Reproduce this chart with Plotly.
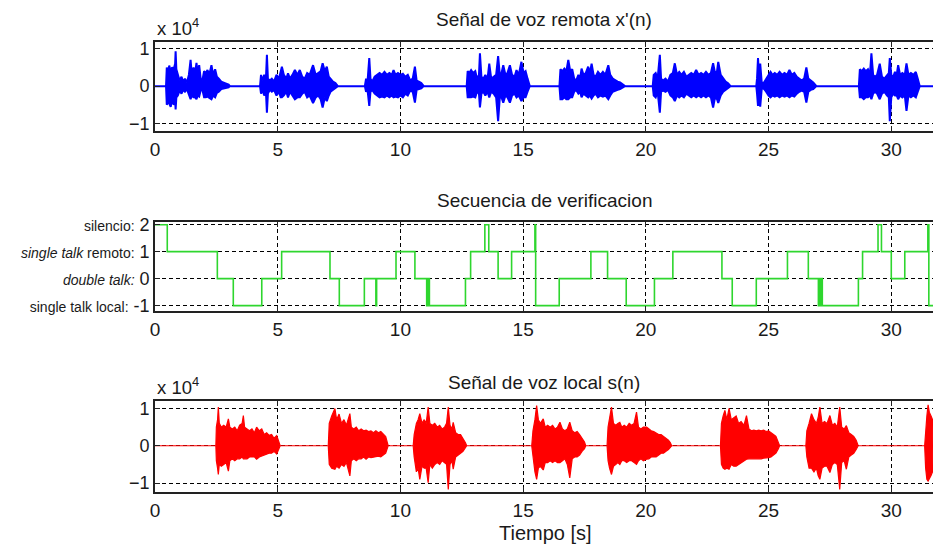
import plotly.graph_objects as go

T_END = 31.7

# far-end (remote) speech envelope, in units of 1e4: (time s, upper, lower)
remote_env = [
    (0.45, 0, 0), (0.48, 0.5, -0.5), (0.53, 0.35, -0.4), (0.58, 0.55, -0.45), (0.64, 0.4, -0.55),
    (0.70, 0.5, -0.35), (0.76, 0.45, -0.5), (0.82, 0.6, -0.4), (0.84, 0.93, -0.62), (0.87, 0.45, -0.3),
    (0.93, 0.3, -0.25), (1.00, 0.15, -0.12), (1.08, 0.25, -0.2), (1.15, 0.12, -0.1), (1.22, 0.2, -0.15),
    (1.30, 0.1, -0.08), (1.38, 0.3, -0.2), (1.45, 0.7, -0.35), (1.50, 0.3, -0.25), (1.57, 0.5, -0.3),
    (1.63, 0.35, -0.3), (1.69, 0.62, -0.35), (1.74, 0.35, -0.25), (1.80, 0.56, -0.28), (1.86, 0.2, -0.12),
    (1.93, 0.15, -0.1), (2.00, 0.4, -0.3), (2.07, 0.35, -0.3), (2.14, 0.43, -0.28), (2.21, 0.3, -0.32),
    (2.30, 0.56, -0.35), (2.37, 0.3, -0.25), (2.45, 0.45, -0.3), (2.52, 0.25, -0.18), (2.60, 0.2, -0.15),
    (2.70, 0.12, -0.08), (2.85, 0.08, -0.05), (3.00, 0.04, -0.03), (3.05, 0, 0),
    (4.28, 0, 0), (4.32, 0.3, -0.2), (4.38, 0.15, -0.1), (4.45, 0.3, -0.25), (4.52, 0.2, -0.15),
    (4.56, 0.84, -0.71), (4.60, 0.2, -0.2), (4.68, 0.15, -0.1), (4.76, 0.2, -0.15), (4.85, 0.12, -0.1),
    (4.95, 0.3, -0.25), (5.05, 0.2, -0.15), (5.12, 0.35, -0.3), (5.17, 0.52, -0.3), (5.25, 0.3, -0.25),
    (5.35, 0.2, -0.15), (5.42, 0.34, -0.3), (5.50, 0.2, -0.15), (5.60, 0.3, -0.25), (5.70, 0.43, -0.35),
    (5.80, 0.3, -0.3), (5.90, 0.43, -0.3), (6.00, 0.25, -0.2), (6.10, 0.2, -0.15), (6.20, 0.35, -0.3),
    (6.30, 0.3, -0.25), (6.44, 0.56, -0.45), (6.55, 0.3, -0.3), (6.65, 0.35, -0.25), (6.75, 0.4, -0.35),
    (6.83, 0.61, -0.57), (6.92, 0.4, -0.3), (7.00, 0.52, -0.4), (7.08, 0.25, -0.25), (7.15, 0.2, -0.15),
    (7.25, 0.12, -0.08), (7.35, 0.08, -0.05), (7.45, 0, 0),
    (8.55, 0, 0), (8.60, 0.2, -0.15), (8.66, 0.12, -0.1), (8.73, 0.75, -0.53), (8.78, 0.2, -0.15),
    (8.85, 0.12, -0.1), (8.95, 0.25, -0.2), (9.05, 0.3, -0.25), (9.15, 0.35, -0.3), (9.25, 0.3, -0.28),
    (9.35, 0.38, -0.3), (9.45, 0.3, -0.25), (9.55, 0.35, -0.3), (9.65, 0.3, -0.25), (9.72, 0.43, -0.3),
    (9.80, 0.3, -0.28), (9.90, 0.35, -0.3), (10.00, 0.3, -0.25), (10.10, 0.33, -0.3), (10.20, 0.25, -0.2),
    (10.30, 0.3, -0.25), (10.40, 0.15, -0.12), (10.50, 0.2, -0.15), (10.59, 0.52, -0.44), (10.66, 0.15, -0.1),
    (10.75, 0.12, -0.08), (10.85, 0.08, -0.06), (10.95, 0, 0),
    (12.70, 0, 0), (12.74, 0.4, -0.3), (12.80, 0.35, -0.3), (12.88, 0.43, -0.3), (12.96, 0.35, -0.28),
    (13.05, 0.4, -0.3), (13.12, 0.2, -0.15), (13.20, 0.3, -0.2), (13.24, 0.88, -0.57), (13.30, 0.25, -0.2),
    (13.38, 0.2, -0.15), (13.46, 0.3, -0.25), (13.55, 0.2, -0.15), (13.62, 0.6, -0.3), (13.70, 0.2, -0.15),
    (13.80, 0.25, -0.2), (13.90, 0.3, -0.3), (13.98, 0.8, -0.94), (14.05, 0.3, -0.3), (14.12, 0.35, -0.3),
    (14.19, 0.56, -0.44), (14.28, 0.3, -0.25), (14.36, 0.35, -0.3), (14.46, 0.56, -0.44), (14.55, 0.3, -0.25),
    (14.65, 0.25, -0.2), (14.73, 0.43, -0.3), (14.82, 0.3, -0.25), (14.93, 0.65, -0.4), (15.02, 0.35, -0.3),
    (15.10, 0.4, -0.3), (15.18, 0.2, -0.15), (15.27, 0, 0),
    (16.48, 0, 0), (16.52, 0.45, -0.35), (16.60, 0.4, -0.35), (16.68, 0.47, -0.3), (16.76, 0.4, -0.35),
    (16.84, 0.7, -0.35), (16.92, 0.4, -0.3), (17.00, 0.45, -0.3), (17.08, 0.2, -0.15), (17.16, 0.15, -0.1),
    (17.25, 0.3, -0.2), (17.32, 0.2, -0.15), (17.38, 0.47, -0.3), (17.46, 0.3, -0.2), (17.55, 0.35, -0.25),
    (17.65, 0.52, -0.3), (17.72, 0.35, -0.25), (17.79, 0.6, -0.33), (17.87, 0.3, -0.25), (17.95, 0.25, -0.2),
    (18.05, 0.38, -0.3), (18.15, 0.3, -0.25), (18.25, 0.38, -0.28), (18.35, 0.3, -0.25), (18.47, 0.56, -0.35),
    (18.55, 0.3, -0.25), (18.65, 0.2, -0.15), (18.75, 0.15, -0.12), (18.85, 0.12, -0.1), (18.95, 0.1, -0.08),
    (19.05, 0.06, -0.05), (19.15, 0, 0),
    (20.28, 0, 0), (20.32, 0.3, -0.25), (20.40, 0.35, -0.3), (20.48, 0.2, -0.15), (20.57, 0.84, -0.71),
    (20.62, 0.2, -0.15), (20.70, 0.15, -0.12), (20.80, 0.2, -0.15), (20.90, 0.12, -0.1), (21.00, 0.3, -0.25),
    (21.10, 0.35, -0.3), (21.18, 0.61, -0.4), (21.27, 0.3, -0.25), (21.36, 0.38, -0.3), (21.45, 0.3, -0.25),
    (21.55, 0.38, -0.3), (21.65, 0.25, -0.2), (21.75, 0.3, -0.25), (21.85, 0.35, -0.3), (21.95, 0.3, -0.25),
    (22.05, 0.43, -0.3), (22.15, 0.3, -0.25), (22.25, 0.35, -0.3), (22.35, 0.3, -0.25), (22.45, 0.38, -0.3),
    (22.55, 0.3, -0.25), (22.65, 0.35, -0.3), (22.74, 0.61, -0.57), (22.82, 0.35, -0.3), (22.90, 0.4, -0.35),
    (22.95, 0.65, -0.45), (23.05, 0.3, -0.25), (23.15, 0.2, -0.15), (23.25, 0.12, -0.08), (23.35, 0.08, -0.05),
    (23.45, 0, 0),
    (24.50, 0, 0), (24.53, 0.2, -0.2), (24.57, 0.75, -0.53), (24.61, 0.3, -0.25), (24.66, 0.6, -0.55),
    (24.72, 0.1, -0.08), (24.80, 0.08, -0.06), (24.90, 0.2, -0.15), (25.00, 0.3, -0.25), (25.08, 0.38, -0.3),
    (25.16, 0.3, -0.25), (25.25, 0.35, -0.28), (25.35, 0.3, -0.25), (25.45, 0.38, -0.3), (25.55, 0.3, -0.25),
    (25.65, 0.35, -0.28), (25.75, 0.3, -0.25), (25.85, 0.43, -0.3), (25.95, 0.3, -0.25), (26.05, 0.35, -0.28),
    (26.15, 0.25, -0.2), (26.25, 0.2, -0.15), (26.35, 0.15, -0.12), (26.45, 0.2, -0.15), (26.54, 0.5, -0.44),
    (26.62, 0.2, -0.15), (26.72, 0.15, -0.1), (26.82, 0.1, -0.08), (26.95, 0, 0),
    (28.68, 0, 0), (28.72, 0.45, -0.3), (28.80, 0.4, -0.3), (28.88, 0.47, -0.35), (28.96, 0.4, -0.3),
    (29.05, 0.45, -0.3), (29.13, 0.3, -0.25), (29.19, 0.88, -0.35), (29.26, 0.3, -0.2), (29.34, 0.25, -0.15),
    (29.42, 0.3, -0.2), (29.53, 0.6, -0.35), (29.62, 0.25, -0.2), (29.72, 0.2, -0.15), (29.82, 0.3, -0.25),
    (29.90, 0.35, -0.3), (29.94, 0.75, -0.94), (30.00, 0.3, -0.3), (30.08, 0.25, -0.2), (30.15, 0.38, -0.25),
    (30.22, 0.3, -0.25), (30.28, 0.56, -0.35), (30.36, 0.3, -0.25), (30.45, 0.35, -0.3), (30.55, 0.3, -0.25),
    (30.62, 0.61, -0.66), (30.70, 0.3, -0.25), (30.80, 0.35, -0.3), (30.90, 0.3, -0.25), (31.00, 0.38, -0.3),
    (31.08, 0.2, -0.15), (31.16, 0, 0),
]

# near-end (local) speech envelope, in units of 1e4: (time s, upper, lower)
local_env = [
    (2.48, 0, 0), (2.50, 0.5, -0.4), (2.55, 0.7, -0.6), (2.58, 1.04, -0.77), (2.62, 0.6, -0.5),
    (2.70, 0.5, -0.55), (2.80, 0.55, -0.5), (2.90, 0.5, -0.45), (2.99, 0.72, -0.68), (3.05, 0.5, -0.4),
    (3.15, 0.45, -0.35), (3.25, 0.5, -0.4), (3.35, 0.4, -0.35), (3.45, 0.55, -0.35), (3.55, 0.6, -0.3),
    (3.60, 0.81, -0.35), (3.65, 0.5, -0.35), (3.75, 0.45, -0.35), (3.85, 0.4, -0.3), (3.95, 0.45, -0.3),
    (4.05, 0.35, -0.3), (4.14, 0.5, -0.36), (4.25, 0.4, -0.3), (4.35, 0.45, -0.28), (4.45, 0.3, -0.25),
    (4.55, 0.35, -0.22), (4.65, 0.28, -0.2), (4.75, 0.3, -0.2), (4.85, 0.2, -0.15), (4.96, 0.27, -0.22),
    (5.05, 0.1, -0.08), (5.10, 0, 0),
    (7.06, 0, 0), (7.10, 0.6, -0.5), (7.20, 0.8, -0.6), (7.33, 1.0, -0.63), (7.40, 0.7, -0.55),
    (7.50, 0.85, -0.6), (7.60, 0.6, -0.5), (7.70, 0.7, -0.55), (7.80, 0.55, -0.45), (7.94, 0.86, -0.81),
    (8.00, 0.5, -0.4), (8.10, 0.45, -0.35), (8.20, 0.5, -0.4), (8.30, 0.4, -0.35), (8.40, 0.45, -0.35),
    (8.50, 0.4, -0.3), (8.60, 0.42, -0.36), (8.70, 0.38, -0.3), (8.80, 0.4, -0.32), (8.90, 0.35, -0.3),
    (9.00, 0.4, -0.3), (9.10, 0.35, -0.28), (9.20, 0.38, -0.3), (9.30, 0.3, -0.25), (9.40, 0.25, -0.2),
    (9.50, 0, 0),
    (10.52, 0, 0), (10.56, 0.3, -0.3), (10.65, 0.6, -0.7), (10.72, 0.7, -0.6), (10.79, 0.86, -0.9),
    (10.88, 0.6, -0.55), (10.97, 0.7, -0.6), (11.05, 0.6, -0.6), (11.13, 1.04, -0.99), (11.20, 0.6, -0.5),
    (11.30, 0.55, -0.6), (11.40, 0.6, -0.5), (11.50, 0.5, -0.45), (11.60, 0.55, -0.5), (11.70, 0.45, -0.4),
    (11.80, 0.5, -0.45), (11.88, 0.6, -0.5), (11.95, 1.04, -1.17), (12.02, 0.55, -0.5), (12.10, 0.45, -0.4),
    (12.15, 0.63, -0.63), (12.25, 0.35, -0.3), (12.35, 0.3, -0.25), (12.45, 0.3, -0.2), (12.55, 0.2, -0.15),
    (12.65, 0.08, -0.05), (12.70, 0, 0),
    (15.35, 0, 0), (15.40, 0.4, -0.3), (15.48, 0.7, -0.7), (15.55, 1.08, -0.9), (15.62, 0.7, -0.6),
    (15.70, 0.6, -0.55), (15.82, 0.72, -0.65), (15.90, 0.5, -0.45), (16.00, 0.55, -0.45), (16.10, 0.5, -0.4),
    (16.20, 0.55, -0.45), (16.30, 0.45, -0.4), (16.40, 0.5, -0.45), (16.50, 0.63, -0.45), (16.60, 0.45, -0.4),
    (16.70, 0.4, -0.35), (16.80, 0.45, -0.5), (16.90, 0.63, -0.86), (17.00, 0.4, -0.35), (17.10, 0.35, -0.3),
    (17.20, 0.38, -0.3), (17.30, 0.3, -0.25), (17.40, 0.2, -0.15), (17.50, 0.1, -0.08), (17.55, 0, 0),
    (18.42, 0, 0), (18.46, 0.5, -0.4), (18.52, 0.7, -0.6), (18.60, 1.04, -0.77), (18.68, 0.6, -0.55),
    (18.78, 0.55, -0.5), (18.86, 0.6, -0.45), (18.94, 0.63, -0.5), (19.02, 0.5, -0.4), (19.12, 0.55, -0.4),
    (19.22, 0.5, -0.45), (19.32, 0.6, -0.4), (19.42, 0.55, -0.4), (19.52, 0.6, -0.45), (19.62, 0.9, -0.5),
    (19.70, 0.5, -0.4), (19.80, 0.45, -0.35), (19.90, 0.5, -0.4), (20.03, 0.5, -0.36), (20.12, 0.45, -0.35),
    (20.22, 0.4, -0.3), (20.32, 0.38, -0.3), (20.42, 0.35, -0.3), (20.52, 0.3, -0.25), (20.62, 0.3, -0.2),
    (20.72, 0.25, -0.2), (20.82, 0.2, -0.15), (20.92, 0.15, -0.1), (21.00, 0.08, -0.05), (21.05, 0, 0),
    (23.04, 0, 0), (23.08, 0.6, -0.5), (23.15, 0.8, -0.6), (23.22, 0.95, -0.63), (23.30, 0.7, -0.6),
    (23.39, 1.0, -0.63), (23.48, 0.7, -0.5), (23.58, 0.75, -0.55), (23.68, 0.8, -0.55), (23.78, 0.6, -0.5),
    (23.88, 0.65, -0.45), (24.00, 0.55, -0.4), (24.10, 0.81, -0.36), (24.20, 0.45, -0.35), (24.30, 0.4, -0.35),
    (24.40, 0.42, -0.35), (24.50, 0.4, -0.33), (24.60, 0.42, -0.35), (24.70, 0.4, -0.35), (24.80, 0.42, -0.33),
    (24.90, 0.38, -0.32), (25.00, 0.4, -0.32), (25.10, 0.36, -0.3), (25.20, 0.3, -0.25), (25.30, 0.25, -0.2),
    (25.40, 0.1, -0.08), (25.45, 0, 0),
    (26.52, 0, 0), (26.56, 0.4, -0.3), (26.65, 0.6, -0.6), (26.75, 0.86, -0.6), (26.85, 0.7, -0.7),
    (26.95, 0.6, -0.6), (27.02, 0.75, -0.8), (27.09, 1.04, -0.9), (27.18, 0.6, -0.6), (27.28, 0.65, -0.55),
    (27.38, 0.6, -0.55), (27.50, 0.81, -0.72), (27.60, 0.55, -0.5), (27.70, 0.6, -0.45), (27.80, 0.5, -0.5),
    (27.90, 1.04, -1.17), (27.98, 0.5, -0.45), (28.08, 0.45, -0.4), (28.17, 0.54, -0.63), (28.27, 0.35, -0.3),
    (28.37, 0.3, -0.25), (28.47, 0.25, -0.2), (28.57, 0.15, -0.1), (28.65, 0, 0),
    (31.36, 0, 0), (31.40, 0.5, -0.6), (31.45, 0.8, -0.9), (31.50, 1.1, -0.95), (31.55, 0.9, -0.9),
    (31.62, 0.8, -0.8), (31.68, 0.7, -0.7),
]

# talk-state sequence: change times (s) and state values
state_t = [0.0, 0.5, 2.54, 3.19, 4.35, 5.16, 7.13, 7.51, 8.53, 9.0, 9.03, 9.82, 10.59, 11.07, 11.12, 11.18,
           12.65, 12.86, 13.44, 13.6, 13.98, 14.53, 15.48, 15.51, 16.47, 17.76, 18.44, 19.2, 20.35, 21.1,
           23.1, 23.52, 24.5, 25.77, 26.62, 27.03, 27.05, 27.07, 27.09, 27.11, 27.13, 27.15, 27.17, 27.19,
           28.66, 28.83, 29.46, 29.6, 30.0, 30.55, 31.49, 31.53, 31.7]
state_v = [2, 1, 0, -1, 0, 1, 0, -1, 0, -1, 0, 1, 0, -1, 0, -1,
           0, 1, 2, 1, 0, 1, 2, -1, 0, 1, 0, -1, 0, 1,
           0, -1, 0, 1, 0, -1, 0, -1, 0, -1, 0, -1, 0, -1,
           0, 1, 2, 1, 0, 1, 2, -1, -1]

x_ticks = [0, 5, 10, 15, 20, 25, 30]
sig_ticks = [-1, 0, 1]
state_ticks = [-1, 0, 1, 2]
state_names = ["single talk local:", "<i>double talk:</i>", "<i>single talk</i> remoto:", "silencio:"]
titles = ["Señal de voz remota x'(n)", "Secuencia de verificacion", "Señal de voz local s(n)"]
x_label = "Tiempo [s]"

FONT = "Arial, 'Liberation Sans', sans-serif"
INK = "#1a1a1a"


def band(env):
    t = [0.0] + [e[0] for e in env] + [T_END]
    up = [0.0] + [e[1] for e in env] + [0.0]
    lo = [0.0] + [e[2] for e in env] + [0.0]
    return t + t[::-1], up + lo[::-1]


fig = go.Figure()

bx, by = band(remote_env)
fig.add_trace(go.Scatter(x=bx, y=by, mode="lines", fill="toself", fillcolor="#0000ff",
                         line=dict(color="#0000ff", width=2), xaxis="x", yaxis="y", hoverinfo="skip"))

fig.add_trace(go.Scatter(x=state_t, y=state_v, mode="lines", line_shape="hv",
                         line=dict(color="#2ed62e", width=1.6), xaxis="x2", yaxis="y2"))

lx, ly = band(local_env)
fig.add_trace(go.Scatter(x=lx, y=ly, mode="lines", fill="toself", fillcolor="#ff0000",
                         line=dict(color="#ff0000", width=1.2), xaxis="x3", yaxis="y3", hoverinfo="skip"))

grid = dict(showgrid=True, gridcolor="#000000", gridwidth=1, griddash="4px,3px", zeroline=False,
            showline=True, linecolor="#222222", linewidth=1.6, ticks="inside", ticklen=5,
            tickcolor="#222222")

xcommon = dict(grid, range=[0, T_END], tickvals=x_ticks, mirror="ticks",
               tickfont=dict(family=FONT, size=19, color=INK))
ycommon = dict(grid, tickvals=sig_ticks, mirror=False,
               tickfont=dict(family=FONT, size=18, color=INK))

doms = [[0.8022, 1.0], [0.4022, 0.6], [0.0, 0.2022]]

state_text = ['<span style="font-size:14px">%s</span> %d' % (n, v) for n, v in zip(state_names, state_ticks)]

fig.update_layout(
    width=933, height=549,
    margin=dict(l=155, r=0, t=42, b=57),
    paper_bgcolor="white", plot_bgcolor="white",
    showlegend=False,
    font=dict(family=FONT, color=INK),
    xaxis=dict(xcommon, anchor="y"),
    yaxis=dict(ycommon, domain=doms[0], range=[-1.2, 1.18], anchor="x"),
    xaxis2=dict(xcommon, anchor="y2"),
    yaxis2=dict(grid, domain=doms[1], range=[-1.2, 2.1], anchor="x2", mirror=False,
                tickvals=state_ticks, ticktext=state_text,
                tickfont=dict(family=FONT, size=18, color=INK)),
    xaxis3=dict(xcommon, anchor="y3"),
    yaxis3=dict(ycommon, domain=doms[2], range=[-1.24, 1.2], anchor="x3"),
)

H = 450.0
def py(pix):
    return (492 - pix) / H

ann = []
for title, pix in zip(titles, [20, 200, 382]):
    ann.append(dict(text=title, x=0.5, y=py(pix), xref="paper", yref="paper", showarrow=False,
                    xanchor="center", yanchor="middle", font=dict(family=FONT, size=19, color=INK)))
for pix in [27, 386]:
    ann.append(dict(text="x 10<sup>4</sup>", x=0.0, y=py(pix), xref="paper", yref="paper", showarrow=False,
                    xanchor="left", yanchor="middle", font=dict(family=FONT, size=18.5, color=INK)))
ann.append(dict(text=x_label, x=(545 - 155) / 778.0, y=py(533), xref="paper", yref="paper", showarrow=False,
                xanchor="center", yanchor="middle", font=dict(family=FONT, size=20, color=INK)))
fig.update_layout(annotations=ann)

fig.write_html("out.html")
